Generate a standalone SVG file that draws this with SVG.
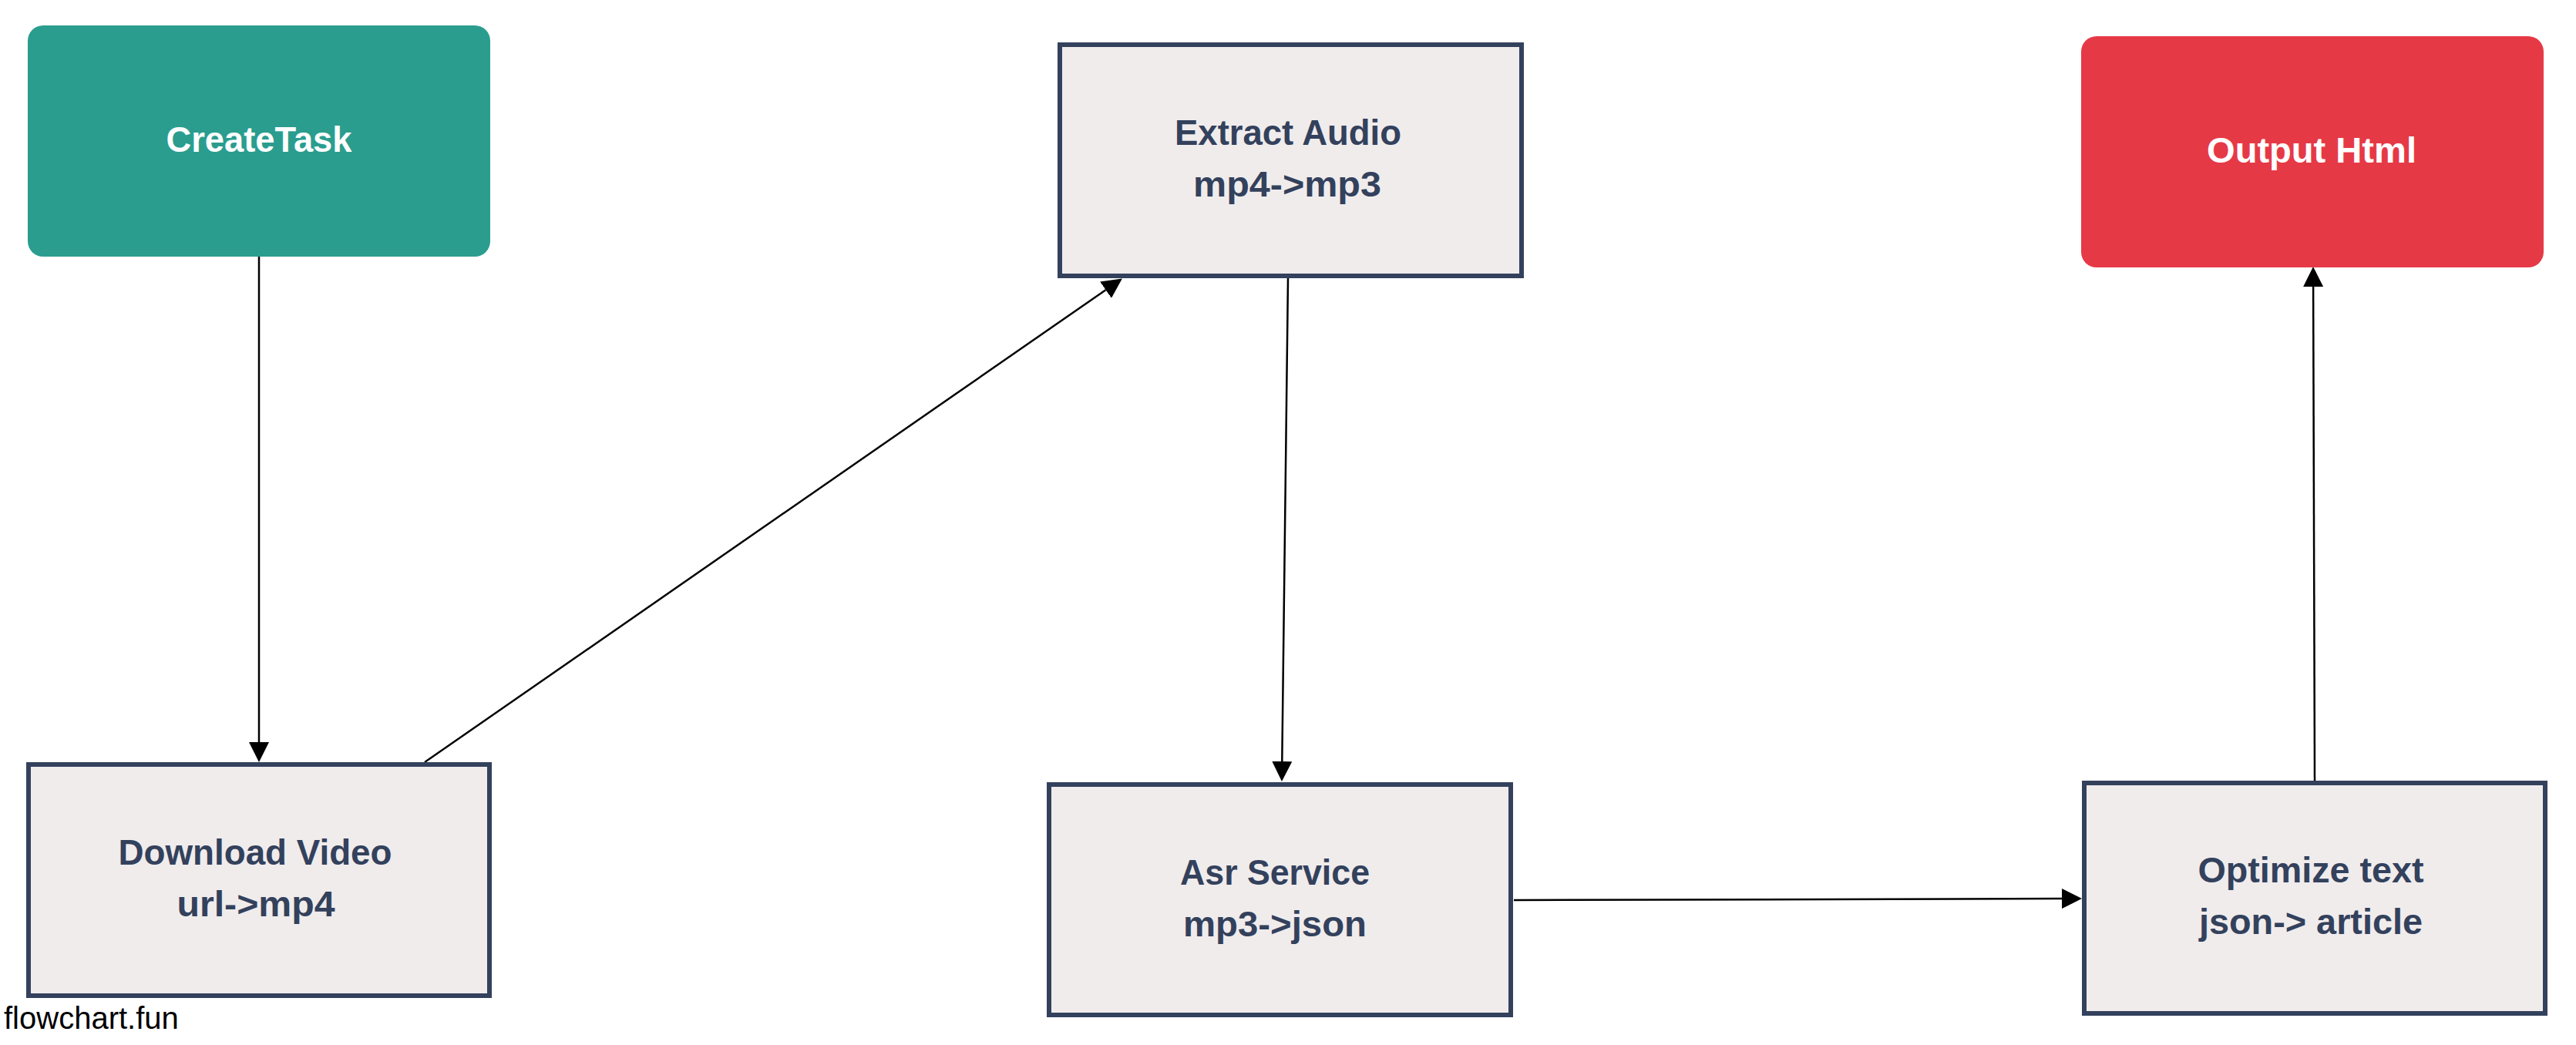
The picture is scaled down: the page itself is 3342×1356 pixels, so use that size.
<svg xmlns="http://www.w3.org/2000/svg" width="3342" height="1356" viewBox="0 0 3342 1356">
<style>
.box{fill:#f0ecec;stroke:#33415c;stroke-width:6}
.lbl{font-family:"Liberation Sans",Arial,sans-serif;font-weight:bold;font-size:47px;text-anchor:middle;fill:#33415c}
.wlbl{font-family:"Liberation Sans",Arial,sans-serif;font-weight:bold;font-size:47px;text-anchor:middle;fill:#ffffff}
.edge{stroke:#000;stroke-width:2.5;fill:none;marker-end:url(#arr)}
</style>
<defs>
<marker id="arr" markerUnits="userSpaceOnUse" markerWidth="26" markerHeight="26" refX="0" refY="12.5" orient="auto" viewBox="0 0 25 25">
<path d="M0,0 L25,12.5 L0,25 z" fill="#000"/>
</marker>
</defs>
<rect width="3342" height="1356" fill="#fff"/>
<g id="edges">
<line class="edge" x1="336" y1="333" x2="336" y2="963"/>
<line class="edge" x1="551" y1="989" x2="1434.5" y2="376.2"/>
<line class="edge" x1="1671" y1="361" x2="1663.3" y2="988"/>
<line class="edge" x1="1964" y1="1168" x2="2675" y2="1166.1"/>
<line class="edge" x1="3003" y1="1013" x2="3001.1" y2="372"/>
</g>
<g id="createTask">
<rect x="36" y="33" width="600" height="300" rx="20" fill="#2a9d8f"/>
<text class="wlbl" x="336" y="197" textLength="241" lengthAdjust="spacingAndGlyphs">CreateTask</text>
</g>
<g id="extractAudio">
<rect class="box" x="1375" y="58" width="599" height="300"/>
<text class="lbl" x="1671" y="188" textLength="294" lengthAdjust="spacingAndGlyphs">Extract Audio</text>
<text class="lbl" x="1670" y="255" textLength="244" lengthAdjust="spacingAndGlyphs">mp4-&gt;mp3</text>
</g>
<g id="outputHtml">
<rect x="2700" y="47" width="600" height="300" rx="20" fill="#e63946"/>
<text class="wlbl" x="2999" y="211" textLength="272" lengthAdjust="spacingAndGlyphs">Output Html</text>
</g>
<g id="downloadVideo">
<rect class="box" x="37" y="992" width="598" height="300"/>
<text class="lbl" x="331" y="1122" textLength="355" lengthAdjust="spacingAndGlyphs">Download Video</text>
<text class="lbl" x="332" y="1189" textLength="205" lengthAdjust="spacingAndGlyphs">url-&gt;mp4</text>
</g>
<g id="asrService">
<rect class="box" x="1361" y="1018" width="599" height="299"/>
<text class="lbl" x="1654" y="1148" textLength="246" lengthAdjust="spacingAndGlyphs">Asr Service</text>
<text class="lbl" x="1654" y="1215" textLength="238" lengthAdjust="spacingAndGlyphs">mp3-&gt;json</text>
</g>
<g id="optimizeText">
<rect class="box" x="2704" y="1016" width="598" height="299"/>
<text class="lbl" x="2998" y="1145" textLength="293" lengthAdjust="spacingAndGlyphs">Optimize text</text>
<text class="lbl" x="2998" y="1212" textLength="290" lengthAdjust="spacingAndGlyphs">json-&gt; article</text>
</g>
<text x="5" y="1335" font-family="'Liberation Sans',Arial,sans-serif" font-size="40" fill="#000">flowchart.fun</text>
</svg>
